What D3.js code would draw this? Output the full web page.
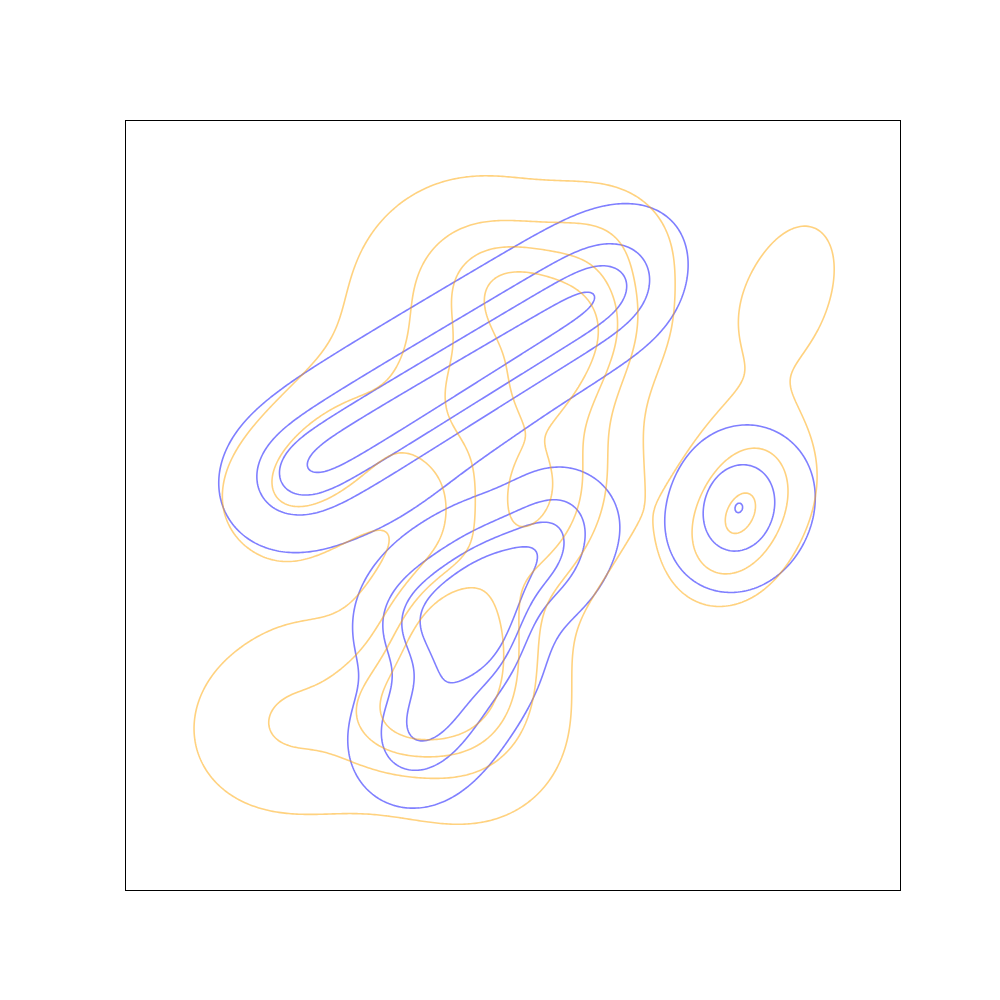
<!DOCTYPE html>
<html>
<head>
<meta charset="utf-8">
<script src="https://cdn.jsdelivr.net/npm/d3@7"></script>
<style>
  body { margin: 0; background: #fff; }
</style>
</head>
<body>
<svg id="chart" width="1000" height="1000"></svg>
<script>
// density levels drawn for both series
const levels = [0.25, 0.5, 0.75, 1.0];

// axis extents (no ticks are shown)
const xDomain = [0, 7.75];
const yDomain = [0, 7.7];

// smoothing kernels: [x1, y1, x2, y2, bandwidth, weight], data units
// a kernel with both ends equal is a round bump, otherwise a ridge between the ends
const blueKernels = [
  [1.54, 4.03, 5.05, 6.15, 0.28, 0.625],
  [1.12, 3.88, 5.56, 6.70, 0.60, 0.390],
  [3.79, 3.00, 3.48, 2.34, 0.24, 0.597],
  [2.76, 2.56, 4.02, 3.41, 0.33, 0.891],
  [3.59, 1.69, 3.56, 1.68, 2.48, 0.205],
  [2.74, 1.30, 3.59, 2.55, 0.34, 0.690],
  [6.23, 4.17, 6.04, 3.47, 0.30, 0.501],
  [6.42, 4.07, 6.62, 4.06, 1.15, 0.184],
  [4.44, 3.88, 4.09, 3.13, 0.30, 0.490]
];

const orangeKernels = [
  [4.20, 4.84, 4.82, 5.85, 0.37, 0.635],
  [4.35, 4.53, 3.80, 3.25, 0.55, 0.935],
  [3.49, 6.18, 4.35, 5.72, 0.39, 0.500],
  [2.56, 4.77, 1.20, 3.69, 0.52, 0.558],
  [3.52, 5.83, 3.52, 5.83, 1.02, 0.548],
  [3.32, 2.90, 3.27, 1.67, 0.45, 1.255],
  [2.70, 1.75, 2.69, 1.75, 0.35, 0.379],
  [1.03, 1.43, 2.10, 1.95, 0.70, 0.451],
  [5.85, 3.12, 6.44, 4.33, 0.43, 0.746],
  [6.25, 4.66, 7.10, 7.28, 0.74, 0.283],
  [3.24, 4.44, 3.66, 5.41, 0.39, 0.317],
  [3.52, 1.57, 3.52, 1.57, 1.11, 0.317],
  [5.10, 6.72, 4.43, 6.11, 0.45, 0.294]
];

const width = 1000;
const height = 1000;
const marginLeft = 125;
const marginRight = 100;
const marginTop = 120;
const marginBottom = 110;

// helper functions
function erf(v) {
  const sign = v < 0 ? -1 : 1;
  v = Math.abs(v);
  const t = 1 / (1 + 0.3275911 * v);
  const p = ((((1.061405429 * t - 1.453152027) * t + 1.421413741) * t - 0.284496736) * t + 0.254829592) * t;
  return sign * (1 - p * Math.exp(-v * v));
}
const cdf = z => 0.5 * (1 + erf(z / Math.SQRT2));

function kernelAt(k, px, py) {
  const [x1, y1, x2, y2, bw, w] = k;
  const dx = x2 - x1, dy = y2 - y1, len = Math.hypot(dx, dy);
  const qx = px - x1, qy = py - y1;
  if (len < 1e-3 * bw) return w * Math.exp(-(qx * qx + qy * qy) / (2 * bw * bw));
  const ux = dx / len, uy = dy / len;
  const along = qx * ux + qy * uy;
  const across = -qx * uy + qy * ux;
  const a = (cdf(along / bw) - cdf((along - len) / bw)) / (2 * cdf(len / (2 * bw)) - 1);
  return w * a * Math.exp(-across * across / (2 * bw * bw));
}

const svg = d3.select('#chart');

const x = d3.scaleLinear().domain(xDomain).range([marginLeft, width - marginRight]);
const y = d3.scaleLinear().domain(yDomain).range([height - marginBottom, marginTop]);

// sampling grid, about 2px per cell
const nx = Math.round((width - marginLeft - marginRight) / 2) + 1;
const ny = Math.round((height - marginTop - marginBottom) / 2) + 1;
const gx = d3.scaleLinear().domain([0.5, nx - 0.5]).range(xDomain);
const gy = d3.scaleLinear().domain([0.5, ny - 0.5]).range([yDomain[1], yDomain[0]]);

function density(kernels) {
  const values = new Float64Array(nx * ny);
  for (let j = 0; j < ny; j++) {
    const yv = gy(j + 0.5);
    for (let i = 0; i < nx; i++) {
      const xv = gx(i + 0.5);
      let f = 0;
      for (const k of kernels) f += kernelAt(k, xv, yv);
      values[j * nx + i] = f;
    }
  }
  return values;
}

const path = d3.geoPath(d3.geoTransform({
  point(a, b) { this.stream.point(x(gx(a)), y(gy(b))); }
}));

svg.append('clipPath').attr('id', 'plot-area')
  .append('rect')
  .attr('x', marginLeft).attr('y', marginTop)
  .attr('width', width - marginLeft - marginRight)
  .attr('height', height - marginTop - marginBottom);

const $vis = svg.append('g').attr('clip-path', 'url(#plot-area)');

const series = [
  { kernels: blueKernels, color: 'blue' },
  { kernels: orangeKernels, color: 'orange' }
];

series.forEach(s => {
  const contours = d3.contours().size([nx, ny]).thresholds(levels)(density(s.kernels));
  $vis.append('g')
    .selectAll('path')
    .data(contours)
    .join('path')
    .attr('d', path)
    .attr('fill', 'none')
    .attr('stroke', s.color)
    .attr('stroke-opacity', 0.5)
    .attr('stroke-width', 1.6)
    .attr('stroke-linejoin', 'round');
});

// frame
svg.append('rect')
  .attr('x', x(xDomain[0]) + 0.5)
  .attr('y', y(yDomain[1]) + 0.5)
  .attr('width', x(xDomain[1]) - x(xDomain[0]))
  .attr('height', y(yDomain[0]) - y(yDomain[1]))
  .attr('fill', 'none')
  .attr('stroke', 'black')
  .attr('stroke-width', 1);
</script>
</body>
</html>
